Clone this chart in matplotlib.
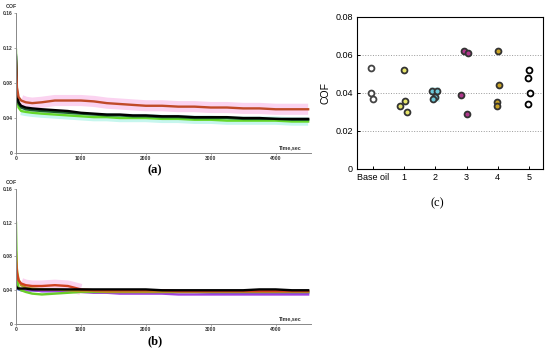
import numpy as np
import matplotlib
matplotlib.use("Agg")
import matplotlib.pyplot as plt

plt.rcParams['font.family'] = ['Liberation Sans', 'DejaVu Sans']

# --- Datos ---
# (a) y (b): COF vs tiempo
t = [0, 15, 40, 80, 150, 250, 400, 600, 800, 1000, 1200, 1400, 1600, 1800,
     2000, 2250, 2500, 2750, 3000, 3250, 3500, 3750, 4000, 4250, 4500]

a_red = [0.105, 0.075, 0.064, 0.060, 0.058, 0.057, 0.058, 0.060, 0.060, 0.060, 0.059, 0.057, 0.056,
         0.055, 0.054, 0.054, 0.053, 0.053, 0.052, 0.052, 0.051, 0.051, 0.050, 0.050, 0.050]
a_black = [0.110, 0.070, 0.058, 0.054, 0.052, 0.051, 0.050, 0.049, 0.048, 0.046, 0.045, 0.044, 0.044,
           0.043, 0.043, 0.042, 0.042, 0.041, 0.041, 0.041, 0.040, 0.040, 0.039, 0.039, 0.039]
a_dkgreen = [0.112, 0.068, 0.056, 0.052, 0.050, 0.049, 0.048, 0.047, 0.046, 0.045, 0.044, 0.043, 0.043,
             0.042, 0.042, 0.041, 0.041, 0.040, 0.040, 0.040, 0.039, 0.039, 0.039, 0.038, 0.038]
a_green = [0.118, 0.065, 0.052, 0.048, 0.047, 0.046, 0.045, 0.044, 0.043, 0.042, 0.041, 0.041, 0.040,
           0.040, 0.040, 0.039, 0.039, 0.038, 0.038, 0.037, 0.037, 0.037, 0.037, 0.036, 0.036]

b_red = [0.075, 0.060, 0.052, 0.048, 0.046, 0.045, 0.045, 0.046, 0.045, 0.041, 0.040, 0.040, 0.040,
         0.040, 0.040, 0.040, 0.039, 0.039, 0.039, 0.039, 0.039, 0.039, 0.039, 0.039, 0.039]
b_olive = [0.085, 0.065, 0.052, 0.046, 0.043, 0.042, 0.041, 0.041, 0.040, 0.039, 0.039, 0.038, 0.038,
           0.038, 0.038, 0.038, 0.038, 0.038, 0.038, 0.038, 0.038, 0.038, 0.038, 0.038, 0.038]
b_black = [0.045, 0.043, 0.042, 0.042, 0.042, 0.041, 0.041, 0.041, 0.041, 0.041, 0.041, 0.041, 0.041,
           0.041, 0.041, 0.040, 0.040, 0.040, 0.040, 0.040, 0.040, 0.041, 0.041, 0.040, 0.040]
b_green = [0.120, 0.055, 0.043, 0.040, 0.038, 0.036, 0.035, 0.036, 0.037, 0.038, 0.038, 0.038, 0.038,
           0.038, 0.038, 0.038, 0.038, 0.038, 0.038, 0.038, 0.038, 0.038, 0.038, 0.038, 0.038]
b_purple = [0.050, 0.045, 0.042, 0.041, 0.040, 0.040, 0.039, 0.039, 0.039, 0.038, 0.037, 0.037, 0.036,
            0.036, 0.036, 0.036, 0.035, 0.035, 0.035, 0.035, 0.035, 0.035, 0.035, 0.035, 0.035]
b_blue = [0.044, 0.042, 0.041, 0.040, 0.040, 0.040, 0.039, 0.039, 0.039, 0.039, 0.039, 0.038, 0.038,
          0.038, 0.038, 0.038, 0.038, 0.038, 0.037, 0.037, 0.037, 0.037, 0.037, 0.037, 0.037]

# (c): COF por aceite
categorias = ['Base oil', '1', '2', '3', '4', '5']
cof_c = [
    [0.053, 0.040, 0.037],
    [0.052, 0.036, 0.033, 0.030],
    [0.041, 0.041, 0.038, 0.037],
    [0.062, 0.061, 0.039, 0.029],
    [0.062, 0.044, 0.035, 0.033],
    [0.052, 0.048, 0.040, 0.034],
]
# desplazamiento horizontal de cada punto
jitter_c = [
    [-0.06, -0.08, 0.0],
    [-0.02, 0.02, -0.13, 0.09],
    [-0.11, 0.05, 0.0, -0.09],
    [-0.09, 0.04, -0.17, 0.02],
    [0.0, 0.04, -0.01, -0.01],
    [0.0, -0.04, 0.05, -0.04],
]
colores_c = ['white', '#e6e46a', '#6cc8d8', '#b0388c', '#c9a326', 'white']
bordes_c = ['#444444', '#333333', '#333333', '#333333', '#333333', 'black']

fig = plt.figure(figsize=(5.5, 3.49), dpi=100)


def panel_tiempo(rect, series, bandas):
    ax = fig.add_axes(rect)
    # bandas de fondo (resaltado) desde t=80 s
    for datos, color, lw, n in bandas:
        ax.plot(t[3:n], datos[3:n], color=color, lw=lw, solid_capstyle='butt', zorder=1)
    for datos, color in series:
        ax.plot(t, datos, color=color, lw=1.7, zorder=2)
    ax.set_xlim(0, 4540)
    ax.set_ylim(0, 0.16)
    ax.set_xticks([0, 1000, 2000, 3000, 4000])
    ax.set_yticks([0, 0.04, 0.08, 0.12, 0.16])
    ax.set_yticklabels(['0', '0.04', '0.08', '0.12', '0.16'])
    for s in ['top', 'right']:
        ax.spines[s].set_visible(False)
    for s in ['left', 'bottom']:
        ax.spines[s].set_color('#888888')
        ax.spines[s].set_linewidth(0.7)
    ax.tick_params(labelsize=3.6, length=1.5, width=0.5, pad=1, colors='#888888',
                   labelcolor='#333333')
    for lab in ax.get_xticklabels() + ax.get_yticklabels():
        lab.set_fontweight('bold')
    ax.text(-0.035, 1.03, 'COF', transform=ax.transAxes, fontsize=3.8,
            fontweight='bold', color='#333333', ha='left', va='bottom')
    ax.text(0.93, 0.02, 'Time,sec', transform=ax.transAxes, fontsize=3.8,
            fontweight='bold', color='#333333', ha='center', va='bottom')
    return ax


# (a)
panel_tiempo([0.029, 0.5616, 0.536, 0.401],
             [(a_green, '#66d82a'), (a_dkgreen, '#1a5a2a'), (a_black, 'black'), (a_red, '#c04a28')],
             [(a_red, '#fbd3f0', 8, len(t)), (a_green, '#c6f6ee', 6, len(t))])

# (b)
panel_tiempo([0.029, 0.0716, 0.536, 0.387],
             [(b_blue, '#4060d0'), (b_purple, '#a040e0'), (b_green, '#6acc2a'),
              (b_olive, '#b09a20'), (b_red, '#d04020'), (b_black, 'black')],
             [(b_red, '#fbd3f0', 8, 10)])

# (c)
axc = fig.add_axes([0.649, 0.5158, 0.338, 0.4355])
axc.axvspan(1.82, 2.15, ymin=0.44, ymax=0.54, color='#d8f4f4', zorder=0, lw=0)
for i, (vals, dx) in enumerate(zip(cof_c, jitter_c)):
    axc.scatter(np.array(dx) + i, vals, s=18, facecolor=colores_c[i],
                edgecolor=bordes_c[i], linewidth=1.3, zorder=3)
axc.set_xlim(-0.52, 5.45)
axc.set_ylim(0, 0.08)
axc.set_xticks(range(len(categorias)))
axc.set_xticklabels(categorias)
axc.set_yticks([0, 0.02, 0.04, 0.06, 0.08])
axc.set_yticklabels(['0', '0.02', '0.04', '0.06', '0.08'])
axc.yaxis.grid(True, linestyle=':', color='#999999', lw=0.7)
axc.set_axisbelow(True)
axc.tick_params(direction='in', labelsize=6.5, length=2.5, width=0.7, pad=3)
for s in axc.spines.values():
    s.set_linewidth(0.8)
axc.set_ylabel('COF', fontsize=7.5, labelpad=3)

# Rotulos de los paneles
fig.text(155 / 550, 1 - 170 / 349, '(a)', fontsize=9, fontweight='bold',
         family='Liberation Serif', ha='center', va='center')
fig.text(155 / 550, 1 - 341 / 349, '(b)', fontsize=9, fontweight='bold',
         family='Liberation Serif', ha='center', va='center')
fig.text(437 / 550, 1 - 203 / 349, '(c)', fontsize=9,
         family='Liberation Serif', ha='center', va='center')

fig.savefig('out.png', dpi=100)
